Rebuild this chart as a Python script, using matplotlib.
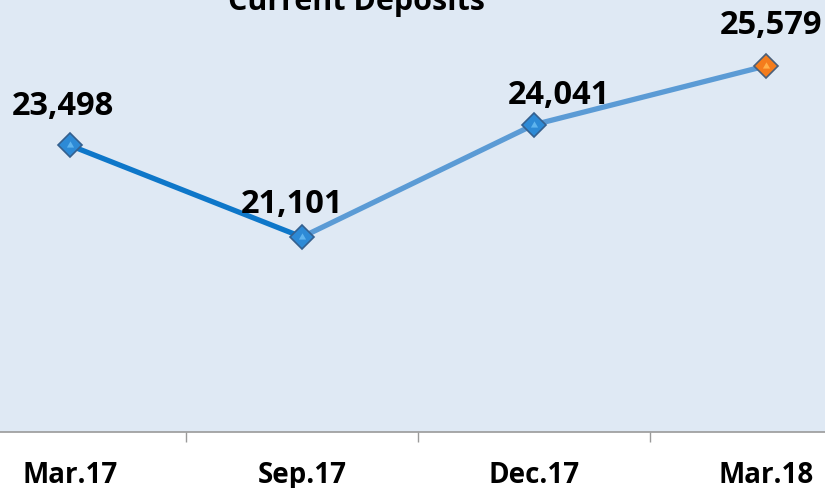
import matplotlib
matplotlib.use("Agg")
import matplotlib.pyplot as plt

categories = ["Mar.17", "Sep.17", "Dec.17", "Mar.18"]
values = [23498, 21101, 24041, 25579]
labels = ["23,498", "21,101", "24,041", "25,579"]
title = "Current Deposits"

FONT = ["Open Sans", "DejaVu Sans"]
BG = "#dfe9f4"
DARK = "#0e77c9"
LIGHT = "#5b9bd5"

W, H = 825, 489
fig = plt.figure(figsize=(W / 100, H / 100), dpi=100, facecolor="white")
ax = fig.add_axes([-46 / W, (H - 433) / H, 928 / W, 433 / H])
ax.set_facecolor(BG)

x = list(range(len(categories)))
ax.plot(x[:2], values[:2], color=DARK, lw=3.8, solid_capstyle="round", zorder=2)
ax.plot(x[1:], values[1:], color=LIGHT, lw=3.8, solid_capstyle="round", zorder=2)

face = ["#2d8ad6", "#2d8ad6", "#2d8ad6", "#f47c1c"]
edge = ["#35608e", "#35608e", "#35608e", "#4a5f7a"]
hi = ["#5fb4ee", "#5fb4ee", "#5fb4ee", "#ffb04a"]
for xi, v, f, e, h in zip(x, values, face, edge, hi):
    ax.plot([xi], [v], marker="D", ms=12.5, mfc=f, mec=e, mew=1.2, zorder=3)
    ax.plot([xi], [v], marker=(3, 0, 0), ms=6, mfc=h, mec="none", zorder=4)

offsets = [(-5, 29), (-7, 24), (18, 22), (4, 30)]
for xi, v, lab, off in zip(x, values, labels, offsets):
    ax.annotate(lab, (xi, v), xytext=off, textcoords="offset points",
                ha="center", va="center", fontsize=23.5, fontweight="bold",
                family=FONT, color="black", zorder=5)

ax.set_xlim(-0.5, 3.5)
ax.set_ylim(16000, 27330)
ax.set_yticks([])
ax.set_xticks([0.5, 1.5, 2.5])
ax.set_xticklabels([])
ax.set_xticks(x, minor=True)
ax.set_xticklabels(categories, minor=True, fontsize=20, fontweight="bold", family=FONT)
ax.tick_params(axis="x", which="major", direction="out", length=7, width=1, color="#9a9a9a")
ax.tick_params(axis="x", which="minor", length=0, pad=20)
for s in ["top", "left", "right"]:
    ax.spines[s].set_visible(False)
ax.spines["bottom"].set_color("#9a9a9a")
ax.spines["bottom"].set_linewidth(1.2)

fig.text(356 / W, 1 - 10 / H, title, ha="center", va="baseline",
         fontsize=22, fontweight="bold", family=FONT)

fig.savefig("out.png", dpi=100, facecolor="white")
